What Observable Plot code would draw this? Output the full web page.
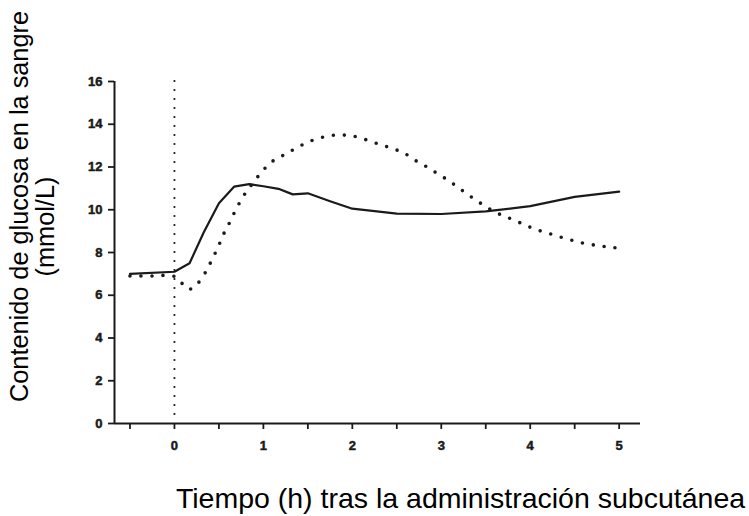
<!DOCTYPE html>
<html>
<head>
<meta charset="utf-8">
<script src="https://cdn.jsdelivr.net/npm/d3@7"></script>
<script src="https://cdn.jsdelivr.net/npm/@observablehq/plot@0.6"></script>
<style>
  html, body { margin: 0; padding: 0; background: white; }
</style>
</head>
<body>
<div id="chart"></div>
<script>
// Solid curve (time h, glucose mmol/L)
const solidX = [-0.5, 0, 0.17, 0.33, 0.5, 0.67, 0.84, 1.0, 1.17, 1.33, 1.5, 1.75, 2.0, 2.5, 3.0, 3.5, 4.0, 4.5, 5.0];
const solidY = [7.0, 7.1, 7.5, 8.95, 10.3, 11.08, 11.2, 11.1, 10.98, 10.72, 10.77, 10.4, 10.05, 9.82, 9.8, 9.92, 10.17, 10.6, 10.85];

// Dotted curve
const dotX = [-0.5, -0.25, 0, 0.16, 0.25, 0.35, 0.42, 0.49, 0.55, 0.62, 0.69, 0.77, 0.86, 0.98, 1.09, 1.22, 1.34, 1.46, 1.59, 1.72, 1.84, 1.96, 2.08, 2.21, 2.33, 2.46, 2.58, 2.7, 2.83, 2.95, 3.08, 3.2, 3.32, 3.44, 3.57, 3.69, 3.81, 3.94, 4.06, 4.19, 4.31, 4.44, 4.56, 4.69, 4.81, 4.94, 5.06];
const dotY = [6.9, 6.9, 6.88, 6.28, 6.5, 7.08, 7.65, 8.25, 8.84, 9.4, 10.0, 10.6, 11.13, 11.76, 12.23, 12.54, 12.82, 13.08, 13.31, 13.44, 13.5, 13.47, 13.38, 13.19, 13.03, 12.85, 12.66, 12.33, 12.02, 11.71, 11.37, 11.01, 10.65, 10.31, 9.97, 9.73, 9.53, 9.29, 9.08, 8.92, 8.76, 8.61, 8.47, 8.37, 8.29, 8.23, 8.17];

const xTicks = [-0.5, 0, 0.5, 1, 1.5, 2, 2.5, 3, 3.5, 4, 4.5, 5];
const xTickLabels = [0, 1, 2, 3, 4, 5];
const yTicks = [0, 2, 4, 6, 8, 10, 12, 14, 16];
const xDomain = [-0.674, 5.24];
const yDomain = [0, 16];
const injectionTime = [0];

const xLabel = "Tiempo (h) tras la administración subcutánea";
const yLabel1 = "Contenido de glucosa en la sangre";
const yLabel2 = "(mmol/L)";

const solid = solidX.map((x, i) => ({x, y: solidY[i]}));
const dotted = dotX.map((x, i) => ({x, y: dotY[i]}));

const ink = "#1a1a1a";
const tickFont = {fontSize: 13, fontWeight: "bold", fill: ink, stroke: ink, strokeWidth: 0.5};

const chart = Plot.plot({
  width: 749,
  height: 516,
  marginLeft: 114,
  marginRight: 109,
  marginTop: 81,
  marginBottom: 93,
  style: {fontFamily: "'Liberation Sans', Arial, sans-serif", background: "white", color: ink},
  x: {domain: xDomain},
  y: {domain: yDomain},
  marks: [
    Plot.axisX({ticks: xTicks, tickFormat: () => "", tickSize: 6, strokeWidth: 1.8, stroke: ink, label: null}),
    Plot.axisY({ticks: yTicks, tickFormat: () => "", tickSize: 6, strokeWidth: 1.8, stroke: ink, label: null}),
    Plot.text(xTickLabels, {x: d => d, frameAnchor: "bottom", text: d => String(d), dy: 17, lineAnchor: "top", textAnchor: "middle", ...tickFont}),
    Plot.text(yTicks, {y: d => d, frameAnchor: "left", text: d => String(d), dx: -12, lineAnchor: "middle", textAnchor: "end", ...tickFont}),
    Plot.ruleY([yDomain[0]], {stroke: ink, strokeWidth: 2}),
    Plot.ruleX([xDomain[0]], {y1: yDomain[0], y2: yDomain[1], stroke: ink, strokeWidth: 2}),
    Plot.ruleX(injectionTime, {y1: yDomain[1], y2: yDomain[0], stroke: ink, strokeWidth: 2.2, strokeDasharray: "0 9", strokeLinecap: "round"}),
    Plot.line(dotted, {x: "x", y: "y", curve: "catmull-rom", stroke: ink, strokeWidth: 3.6, strokeDasharray: "0 11", strokeLinecap: "round"}),
    Plot.line(solid, {x: "x", y: "y", stroke: ink, strokeWidth: 2.2}),
    Plot.text([xLabel], {text: d => d, frameAnchor: "bottom", dx: 83, dy: 75, fontSize: 28.5, textAnchor: "middle", lineAnchor: "middle", fill: "black"}),
    Plot.text([yLabel1], {text: d => d, frameAnchor: "left", rotate: -90, dx: -87, dy: -46, fontSize: 25.3, textAnchor: "middle", lineAnchor: "bottom", fill: "black"}),
    Plot.text([yLabel2], {text: d => d, frameAnchor: "left", rotate: -90, dx: -61, dy: -26, fontSize: 25.3, textAnchor: "middle", lineAnchor: "bottom", fill: "black"})
  ]
});

document.getElementById("chart").appendChild(chart);
</script>
</body>
</html>
